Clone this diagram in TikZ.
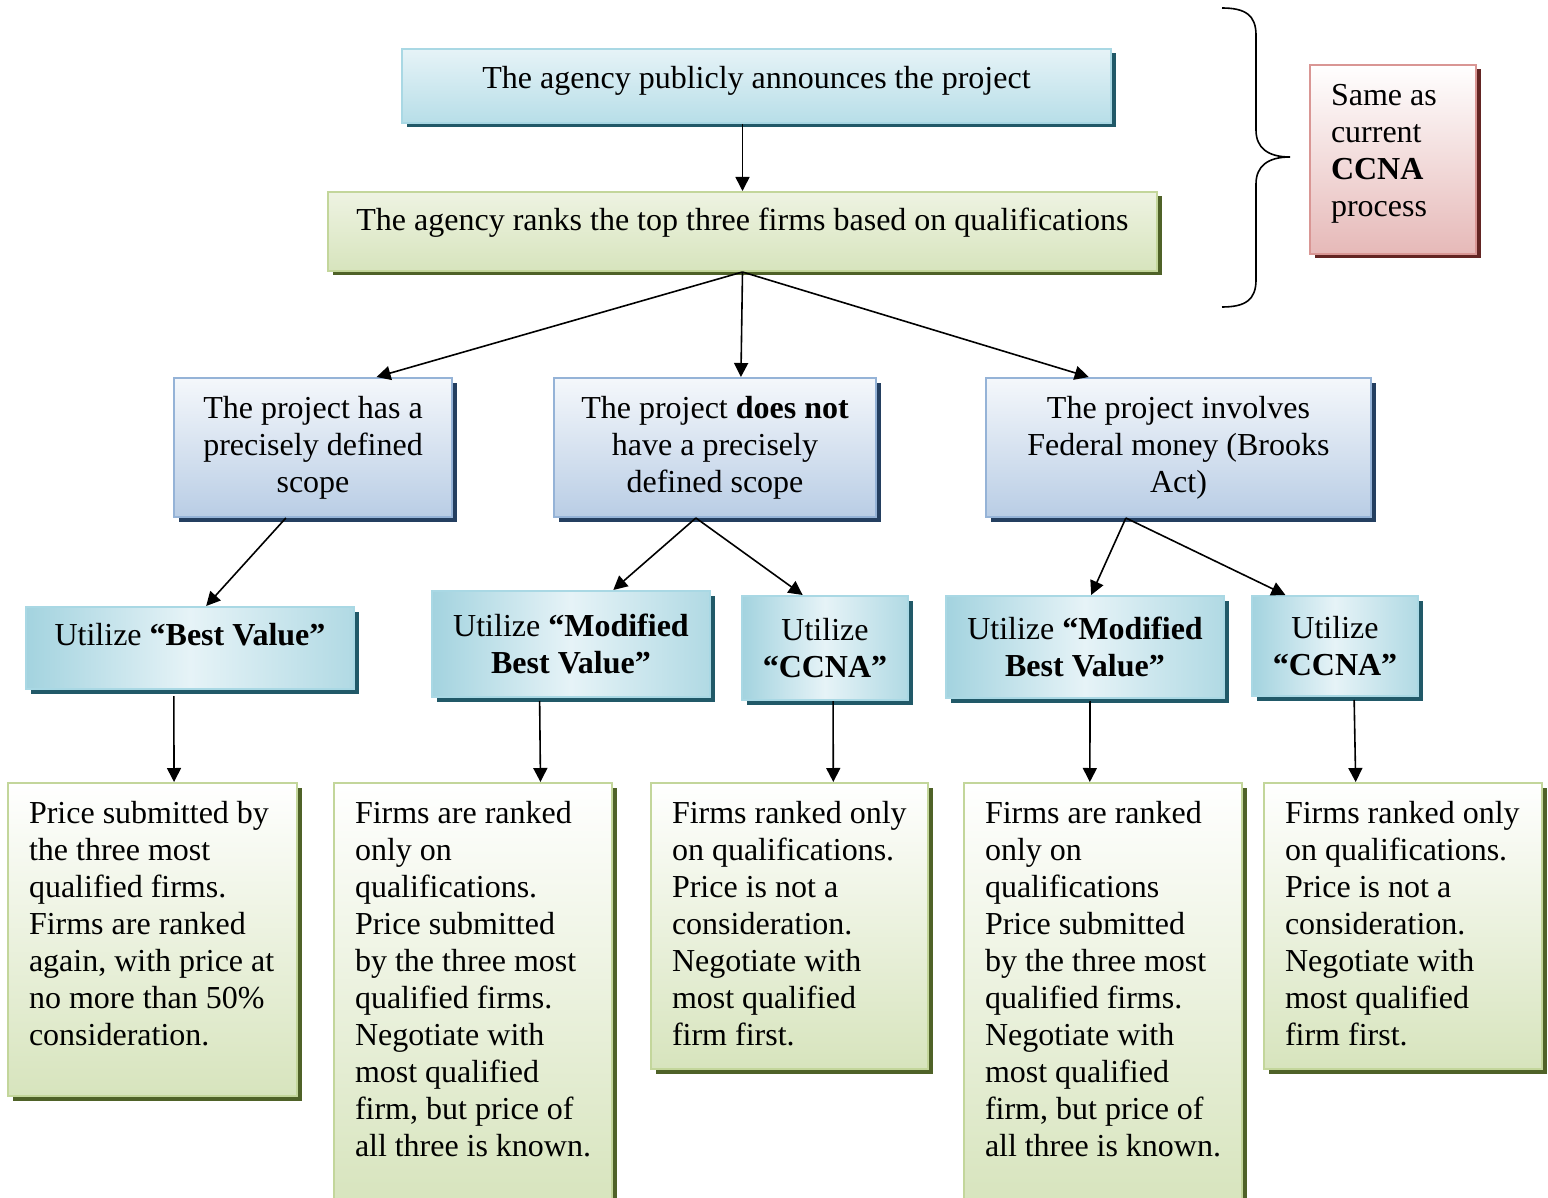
\documentclass[tikz,border=0pt]{standalone}
\usepackage{fontspec}
\setmainfont{Liberation Serif}
\usetikzlibrary{shadows}
\usetikzlibrary{calc}
\usetikzlibrary{positioning, arrows.meta}

\definecolor{aquaedge}{HTML}{A9D8E4}
\definecolor{aquadark}{HTML}{215968}
\definecolor{aquafill}{HTML}{B7DEE8}
\definecolor{aqualight}{HTML}{E6F3F7}
\definecolor{aquamid}{HTML}{A3D3DF}
\definecolor{oliveedge}{HTML}{C3D69B}
\definecolor{olivedark}{HTML}{4F6228}
\definecolor{olivefill}{HTML}{D7E4BD}
\definecolor{olivelight}{HTML}{EEF3E2}
\definecolor{steeledge}{HTML}{95B3D7}
\definecolor{steeldark}{HTML}{243F60}
\definecolor{steelfill}{HTML}{B9CDE5}
\definecolor{roseedge}{HTML}{D99694}
\definecolor{rosedark}{HTML}{632523}
\definecolor{rosefill}{HTML}{E6B9B8}

\begin{document}
\begin{tikzpicture}[x=0.5pt, y=-0.5pt, font=\fontsize{16}{18.5}\selectfont]
        \useasboundingbox (0,0) rectangle (1548,1198);
        % Define styles for boxes
        \tikzstyle{announce} = [draw=aquaedge, line width=1pt, anchor=north west, top color=aqualight, bottom color=aquafill, drop shadow={shadow xshift=2.25pt, shadow yshift=-2.25pt, fill=aquadark, opacity=1}]
        \tikzstyle{rankbox} = [draw=oliveedge, line width=1pt, anchor=north west, top color=olivelight, bottom color=olivefill, drop shadow={shadow xshift=2.25pt, shadow yshift=-2.25pt, fill=olivedark, opacity=1}]
        \tikzstyle{notebox} = [draw=roseedge, line width=1pt, anchor=north west, inner xsep=10.5pt, inner ysep=7.5pt, top color=white, bottom color=rosefill, drop shadow={shadow xshift=2.25pt, shadow yshift=-2.25pt, fill=rosedark, opacity=1}]
        \tikzstyle{casebox} = [draw=steeledge, line width=1pt, anchor=north west, align=center, top color=white!85!steelfill, bottom color=steelfill, drop shadow={shadow xshift=2.25pt, shadow yshift=-2.25pt, fill=steeldark, opacity=1}]
        \tikzstyle{methodbox} = [draw=aquaedge, line width=1pt, anchor=north west, align=center, left color=aquamid, right color=aquamid!85, middle color=aqualight, drop shadow={shadow xshift=2.25pt, shadow yshift=-2.25pt, fill=aquadark, opacity=1}]
        \tikzstyle{detailbox} = [draw=oliveedge, line width=1pt, anchor=north west, inner xsep=10.5pt, inner ysep=7.5pt, top color=white, bottom color=olivefill, drop shadow={shadow xshift=2.25pt, shadow yshift=-2.25pt, fill=olivedark, opacity=1}]
        \tikzstyle{flow} = [-{Triangle[length=7pt, width=7pt]}, line width=0.8pt]

        % Draw top of the process
        \node[announce, minimum width=354.5pt, minimum height=37pt, text height=11pt, text depth=8.5pt] (announce) at (401,48) {The agency publicly announces the project};
        \node[rankbox, minimum width=414.5pt, minimum height=39.5pt, text height=11pt, text depth=11.5pt] (rank) at (327,191) {The agency ranks the top three firms based on qualifications};
        \node[notebox] (ccnanote) at (1309,64) {\parbox[t][79.5pt][t]{62pt}{\raggedright\strut Same as\\ current\\ \textbf{CCNA}\\ process}};
        % the brace
        \draw[line width=0.8pt] (1222,8) .. controls (1245,8) and (1256,15) .. (1256,35) -- (1256,130)
            .. controls (1256,148) and (1268,157) .. (1290,157)
            .. controls (1268,157) and (1256,166) .. (1256,184) -- (1256,280)
            .. controls (1256,300) and (1245,307) .. (1222,307);

        % Draw the three cases
        \node[casebox, minimum width=139pt, minimum height=69.5pt] (scoped) at (173,377) {The project has a\\ precisely defined\\ scope};
        \node[casebox, minimum width=161pt, minimum height=69.5pt] (unscoped) at (553,377) {The project \textbf{does not}\\ have a precisely\\ defined scope};
        \node[casebox, minimum width=192.5pt, minimum height=69.5pt] (federal) at (985,377) {The project involves\\ Federal money (Brooks\\ Act)};

        % Draw the methods
        \node[methodbox, minimum width=164pt, minimum height=41pt, text height=11pt, text depth=13.5pt] (bestvalue) at (25,606) {Utilize \textbf{“Best Value”}};
        \node[methodbox, minimum width=139pt, minimum height=53pt] (modbv) at (431,590) {Utilize \textbf{“Modified}\\ \textbf{Best Value”}};
        \node[methodbox, minimum width=83pt, minimum height=52pt] (ccnaa) at (741,595) {Utilize\\ \textbf{“CCNA”}};
        \node[methodbox, minimum width=139pt, minimum height=51pt] (modbvfed) at (945,595) {Utilize \textbf{“Modified}\\ \textbf{Best Value”}};
        \node[methodbox, minimum width=83pt, minimum height=50pt] (ccnab) at (1251,595) {Utilize\\ \textbf{“CCNA”}};

        % Draw the details
        \node[detailbox] (pricefirst) at (7,782) {\parbox[t][141.5pt][t]{123.5pt}{\raggedright\strut Price submitted by\\ the three most\\ qualified firms.\\ Firms are ranked\\ again, with price at\\ no more than 50\%\\ consideration.}};
        \node[detailbox] (rankedmod) at (333,782) {\parbox[t][196pt][t]{118pt}{\raggedright\strut Firms are ranked\\ only on\\ qualifications.\\ Price submitted\\ by the three most\\ qualified firms.\\ Negotiate with\\ most qualified\\ firm, but price of\\ all three is known.}};
        \node[detailbox] (rankedccna) at (650,782) {\parbox[t][128pt][t]{117.5pt}{\raggedright\strut Firms ranked only\\ on qualifications.\\ Price is not a\\ consideration.\\ Negotiate with\\ most qualified\\ firm first.}};
        \node[detailbox] (rankedmodfed) at (963,782) {\parbox[t][196pt][t]{118pt}{\raggedright\strut Firms are ranked\\ only on\\ qualifications\\ Price submitted\\ by the three most\\ qualified firms.\\ Negotiate with\\ most qualified\\ firm, but price of\\ all three is known.}};
        \node[detailbox] (rankedccnafed) at (1263,782) {\parbox[t][128pt][t]{118pt}{\raggedright\strut Firms ranked only\\ on qualifications.\\ Price is not a\\ consideration.\\ Negotiate with\\ most qualified\\ firm first.}};

        % Draw arrows
        \draw[flow] (rank.north |- announce.south) -- (rank.north);
        \draw[flow] (rank.south) -- ($(scoped.north west)!0.727!(scoped.north east)$);
        \draw[flow] (rank.south) -- ($(unscoped.north west)!0.58!(unscoped.north east)$);
        \draw[flow] (rank.south) -- ($(federal.north west)!0.268!(federal.north east)$);
        \draw[flow] ($(scoped.south west)!0.403!(scoped.south east)$) -- ($(bestvalue.north west)!0.549!(bestvalue.north east)$);
        \draw[flow] ($(unscoped.south west)!0.441!(unscoped.south east)$) -- ($(modbv.north west)!0.651!(modbv.north east)$);
        \draw[flow] ($(unscoped.south west)!0.441!(unscoped.south east)$) -- ($(ccnaa.north west)!0.367!(ccnaa.north east)$);
        \draw[flow] ($(federal.south west)!0.364!(federal.south east)$) -- ($(modbvfed.north west)!0.522!(modbvfed.north east)$);
        \draw[flow] ($(federal.south west)!0.364!(federal.south east)$) -- ($(ccnab.north west)!0.205!(ccnab.north east)$);
        \draw[flow] ($(bestvalue.south west)!0.451!(bestvalue.south east)$) ++(0,6) -- ($(pricefirst.north west)!0.574!(pricefirst.north east)$);
        \draw[flow] ($(modbv.south west)!0.388!(modbv.south east)$) ++(0,3) -- ($(rankedmod.north west)!0.741!(rankedmod.north east)$);
        \draw[flow] ($(ccnaa.south west)!0.548!(ccnaa.south east)$) -- ($(rankedccna.north west)!0.657!(rankedccna.north east)$);
        \draw[flow] ($(modbvfed.south west)!0.518!(modbvfed.south east)$) ++(0,2) -- ($(rankedmodfed.north west)!0.453!(rankedmodfed.north east)$);
        \draw[flow] ($(ccnab.south west)!0.614!(ccnab.south east)$) ++(0,3) -- ($(rankedccnafed.north west)!0.331!(rankedccnafed.north east)$);
    \end{tikzpicture}
\end{document}
